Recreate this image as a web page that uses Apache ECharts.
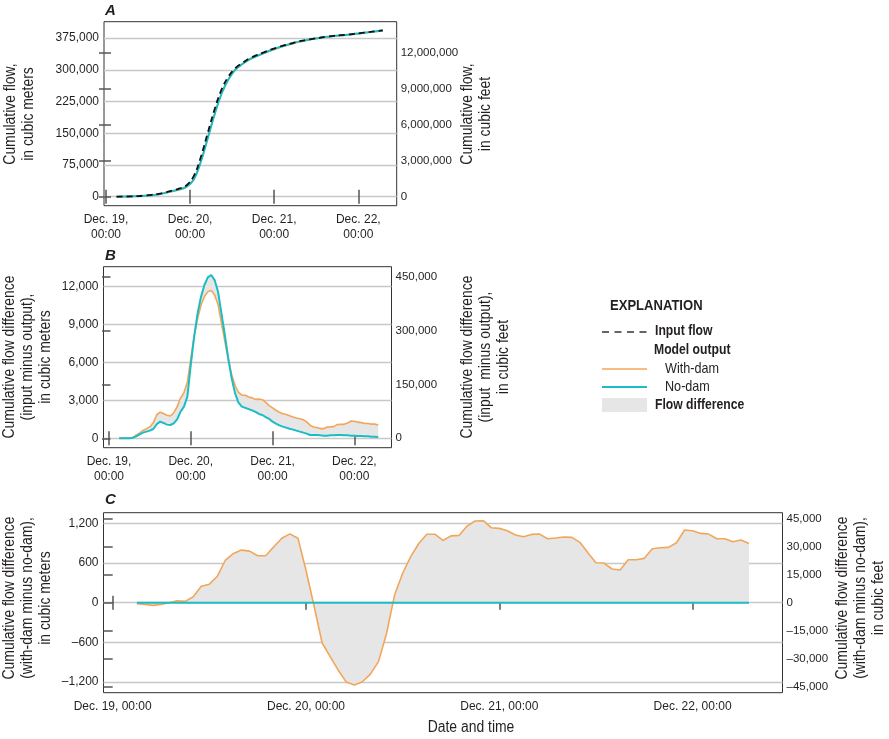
<!DOCTYPE html>
<html><head><meta charset="utf-8">
<script src="https://cdn.jsdelivr.net/npm/echarts@6/dist/echarts.min.js"></script>
<style>html,body{margin:0;padding:0;background:#fff}#c{width:889px;height:739px}</style>
</head><body><div id="c"></div>
<script>
// ---------------- DATA ----------------
// Panel A (every 2 hours, hours after Dec. 19 00:00), cubic meters
const hoursA = [3,5,7,9,11,13,15,17,19,21,23,25,27,29,31,33,35,37,39,41,43,45,47,49,51,53,55,57,59,61,63,65,67,69,71,73,75,77,79];
const inputFlowA = [0,300,800,1500,2600,4300,6800,10500,14500,19500,
  27000,48000,92000,150000,207000,254000,285000,305000,317000,327500,
  335000,341500,348000,353500,358500,363000,367500,370500,373500,376000,
  378500,380500,382000,383500,385500,387500,389500,391500,393500];
const withDamA = [0,300,740,1070,1845,3080,4745,8675,12500,16320,
  22570,39900,81500,138440,195680,244920,278760,300840,313590,324240,
  331930,338450,345420,351285,356555,361220,365895,369030,372465,375150,
  377740,379600,380905,382400,384135,386225,388320,390380,392445];
const noDamA = [0,300,750,1185,2075,3565,5485,9420,13315,17400,
  23710,39980,80820,137300,194510,244140,278690,301450,314500,325200,
  332920,339660,346475,352340,357580,362240,366895,370050,373235,375735,
  378290,380265,381735,383265,385290,387315,389340,391370,393395];

// Panels B and C (hourly, hours after Dec. 19 00:00)
const hours = [3,4,5,6,7,8,9,10,11,12,
  13,14,15,16,17,18,19,20,21,22,
  23,24,25,26,27,28,29,30,31,32,
  33,34,35,36,37,38,39,40,41,42,
  43,44,45,46,47,48,49,50,51,52,
  53,54,55,56,57,58,59,60,61,62,
  63,64,65,66,67,68,69,70,71,72,
  73,74,75,76,77,78,79];
const withDamB = [0,0,0,0,60,250,430,620,755,900,
  1220,1860,2055,1950,1825,1760,2000,2490,3180,3610,
  4430,6295,8100,9450,10500,11200,11560,11660,11320,10570,
  9080,7660,6240,5020,4160,3630,3410,3400,3260,3190,
  3070,3090,3050,2840,2580,2400,2215,2050,1945,1880,
  1780,1680,1605,1550,1470,1300,1035,895,850,765,
  760,890,900,925,1095,1115,1100,1200,1365,1345,
  1275,1240,1180,1170,1120,1120,1055];
const noDamB = [0,0,0,0,50,160,315,450,525,605,
  735,1105,1315,1210,1080,1050,1185,1500,2100,2500,
  3290,5790,8020,9860,11180,12100,12700,12890,12490,11570,
  9860,8150,6310,4730,3550,2810,2500,2400,2300,2200,
  2080,1920,1840,1680,1525,1315,1160,1025,920,840,
  760,685,605,525,450,370,265,265,265,235,
  210,210,235,235,265,265,235,235,210,210,
  185,185,160,160,130,130,105];
const withMinusNoDamC = [-15,-25,-40,-25,0,30,20,90,250,280,
  400,645,745,795,780,710,710,845,975,1040,
  975,490,-50,-605,-815,-1020,-1200,-1245,-1195,-1080,
  -890,-465,115,445,695,895,1035,1035,940,1010,
  1017,1158,1234,1239,1133,1123,1088,1022,997,1032,
  1037,967,977,992,987,912,755,604,599,509,
  494,650,650,670,816,831,836,906,1098,1088,
  1047,1037,967,967,922,947,896];
const noDamRefHours = [3, 79];
const noDamRefC = [0, 0];

// Tick values / labels
const dayTicks = [0, 24, 48, 72];
const dayLabelsAB = ['Dec. 19,\n00:00', 'Dec. 20,\n00:00', 'Dec. 21,\n00:00', 'Dec. 22,\n00:00'];
const dayLabelsC = ['Dec. 19, 00:00', 'Dec. 20, 00:00', 'Dec. 21, 00:00', 'Dec. 22, 00:00'];
const ticksA_m3 = [0, 75000, 150000, 225000, 300000, 375000];
const ticksA_ft3 = [0, 3000000, 6000000, 9000000, 12000000];
const ticksB_m3 = [0, 3000, 6000, 9000, 12000];
const ticksB_ft3 = [0, 150000, 300000, 450000];
const ticksC_m3 = [-1200, -600, 0, 600, 1200];
const ticksC_ft3 = [-45000, -30000, -15000, 0, 15000, 30000, 45000];
const FT3_PER_M3 = 35.3147;

// ---------------- STYLE ----------------
const FONT = "'Liberation Sans',Arial,sans-serif";
const TXT = '#231f20';
const ORANGE = '#f2a65a';
const CYAN = '#1bbcc4';
const FILL = '#e6e6e6';
const GRIDC = '#c8c8c8';
const TICK = {color: '#555', width: 1.5};
const NARROW = 0.87;

const pairs = (xs, ys) => xs.map((x, i) => [x, ys[i]]);
const fmt = v => { const s = Math.abs(v).toLocaleString('en-US'); return v < 0 ? '\u2013' + s : s; };

function xAxes(g, min, max, labels) {
  const base = {type: 'value', gridIndex: g, min, max, axisLine: {show: false}, splitLine: {show: false},
    axisTick: {show: true, inside: true, length: 7, lineStyle: TICK, customValues: dayTicks}};
  return [
    Object.assign({}, base, {position: 'bottom',
      axisLabel: {customValues: dayTicks, margin: 6, color: TXT, fontFamily: FONT, fontSize: 12, lineHeight: 15,
        formatter: v => labels[dayTicks.indexOf(v)]}}),
    Object.assign({}, base, {position: 'top', axisLabel: {show: false}})
  ];
}
function yAxes(g, min, max, lt, rt) {
  const rmin = min * FT3_PER_M3, rmax = max * FT3_PER_M3;
  return [
    {type: 'value', gridIndex: g, position: 'left', min, max, axisLine: {show: false},
      axisTick: {show: false, customValues: lt},
      axisLabel: {customValues: lt, margin: 5, color: TXT, fontFamily: FONT, fontSize: 12, formatter: fmt},
      splitLine: {show: true, lineStyle: {color: GRIDC, width: 1.3}}},
    {type: 'value', gridIndex: g, position: 'right', min: rmin, max: rmax, axisLine: {show: false},
      axisTick: {show: true, inside: true, length: 7, lineStyle: TICK, customValues: rt},
      axisLabel: {customValues: rt, margin: 4, color: TXT, fontFamily: FONT, fontSize: 11.5, formatter: fmt},
      splitLine: {show: false}},
    {type: 'value', gridIndex: g, position: 'left', min: rmin, max: rmax, axisLine: {show: false},
      axisTick: {show: true, inside: true, length: 7, lineStyle: TICK, customValues: rt},
      axisLabel: {show: false}, splitLine: {show: false}}
  ];
}

const line = (name, xi, yi, data, color, width, extra) => Object.assign({
  name, type: 'line', xAxisIndex: xi, yAxisIndex: yi, data, symbol: 'none', silent: true,
  lineStyle: {color, width}, emphasis: {disabled: true}
}, extra || {});

function vtext(x, y, text) {
  return {type: 'text', x, y, rotation: Math.PI / 2, scaleX: NARROW, silent: true,
    style: {text, fill: TXT, fontFamily: FONT, fontSize: 16, lineHeight: 18,
      align: 'center', verticalAlign: 'middle', textAlign: 'center', textVerticalAlign: 'middle'}};
}
function htext(x, y, text, opts, sx) {
  return {type: 'text', x, y, scaleX: sx || NARROW, silent: true,
    style: Object.assign({text, fill: TXT, fontFamily: FONT, fontSize: 14,
      align: 'left', verticalAlign: 'middle', textAlign: 'left', textVerticalAlign: 'middle'}, opts || {})};
}
const letter = (x, y, t) => htext(x, y, t, {fontWeight: 'bold', fontStyle: 'italic', fontSize: 15, align: 'center', textAlign: 'center'}, 1);

// Flow-difference band (between with-dam and no-dam curves) drawn through the axis scales
const bandSeries = {
  type: 'custom', name: 'Flow difference B', coordinateSystem: 'cartesian2d', xAxisIndex: 2, yAxisIndex: 3,
  silent: true, z: 1, data: [[hours[0], 0]],
  renderItem: (params, api) => {
    const pts = [];
    for (let i = 0; i < hours.length; i++) pts.push(api.coord([hours[i], withDamB[i]]));
    for (let i = hours.length - 1; i >= 0; i--) pts.push(api.coord([hours[i], noDamB[i]]));
    return {type: 'polygon', shape: {points: pts}, style: {fill: FILL}};
  }
};

const chart = echarts.init(document.getElementById('c'), null, {renderer: 'canvas'});
chart.setOption({
  animation: false,
  backgroundColor: '#fff',
  grid: [
    {left: 104, top: 21.7, width: 292.7, height: 184, show: true, borderColor: '#333', borderWidth: 1, containLabel: false},
    {left: 103.5, top: 266.7, width: 288, height: 181, show: true, borderColor: '#333', borderWidth: 1, containLabel: false},
    {left: 103.5, top: 512.7, width: 679, height: 180, show: true, borderColor: '#333', borderWidth: 1, containLabel: false}
  ],
  xAxis: [].concat(
    xAxes(0, -0.57, 82.96, dayLabelsAB),
    xAxes(1, -1.61, 82.9, dayLabelsAB),
    xAxes(2, -1.14, 83.16, dayLabelsC)
  ),
  yAxis: [].concat(
    yAxes(0, -21300, 414000, ticksA_m3, ticksA_ft3),
    yAxes(1, -742, 13547, ticksB_m3, ticksB_ft3),
    yAxes(2, -1360, 1360, ticksC_m3, ticksC_ft3)
  ),
  series: [
    // Panel A
    line('With-dam A', 0, 0, pairs(hoursA, withDamA), ORANGE, 1.5, {smooth: 0.4, z: 2}),
    line('No-dam A', 0, 0, pairs(hoursA, noDamA), CYAN, 2, {smooth: 0.4, z: 3}),
    line('Input flow A', 0, 0, pairs(hoursA, inputFlowA), '#111', 1.8, {smooth: 0.4, z: 4,
      lineStyle: {color: '#111', width: 1.8, type: [6, 4]}}),
    // Panel B
    bandSeries,
    line('With-dam B', 2, 3, pairs(hours, withDamB), ORANGE, 1.6, {z: 3}),
    line('No-dam B', 2, 3, pairs(hours, noDamB), CYAN, 2, {z: 4}),
    // Panel C
    line('With-dam minus no-dam C', 4, 6, pairs(hours, withMinusNoDamC), ORANGE, 1.6, {z: 3,
      areaStyle: {color: FILL, opacity: 1, origin: 'auto'}}),
    line('No-dam C', 4, 6, pairs(noDamRefHours, noDamRefC), CYAN, 2, {z: 4})
  ],
  graphic: [
    letter(110.5, 11, 'A'), letter(110.5, 256, 'B'), letter(110.5, 500, 'C'),
    vtext(20, 114, 'Cumulative flow,\nin cubic meters'),
    vtext(477, 114, 'Cumulative flow,\nin cubic feet'),
    vtext(27.5, 357, 'Cumulative flow difference\n(input minus output),\nin cubic meters'),
    vtext(486, 357, 'Cumulative flow difference\n(input  minus output),\nin cubic feet'),
    vtext(27.5, 598, 'Cumulative flow difference\n(with-dam minus no-dam),\nin cubic meters'),
    vtext(861, 598, 'Cumulative flow difference\n(with-dam minus no-dam),\nin cubic feet'),
    htext(471, 728, 'Date and time', {fontSize: 16, align: 'center', textAlign: 'center'}),
    // Explanation
    htext(610, 306, 'EXPLANATION', {fontWeight: 'bold', fontSize: 15}),
    {type: 'line', silent: true, shape: {x1: 602, y1: 332, x2: 647, y2: 332}, style: {stroke: '#333', lineWidth: 1.5, lineDash: [7, 5.5]}},
    htext(655, 331, 'Input flow', {fontWeight: 'bold'}),
    htext(654, 350, 'Model output', {fontWeight: 'bold'}),
    {type: 'line', silent: true, shape: {x1: 602, y1: 369, x2: 647, y2: 369}, style: {stroke: ORANGE, lineWidth: 1.6}},
    htext(665, 369, 'With-dam', {fontSize: 14.5}),
    {type: 'line', silent: true, shape: {x1: 602, y1: 387, x2: 647, y2: 387}, style: {stroke: CYAN, lineWidth: 2}},
    htext(665, 387, 'No-dam', {fontSize: 14.5}),
    {type: 'rect', silent: true, shape: {x: 602, y: 398, width: 45, height: 14}, style: {fill: FILL}},
    htext(655, 405, 'Flow difference', {fontWeight: 'bold'})
  ]
});
</script>
</body></html>
